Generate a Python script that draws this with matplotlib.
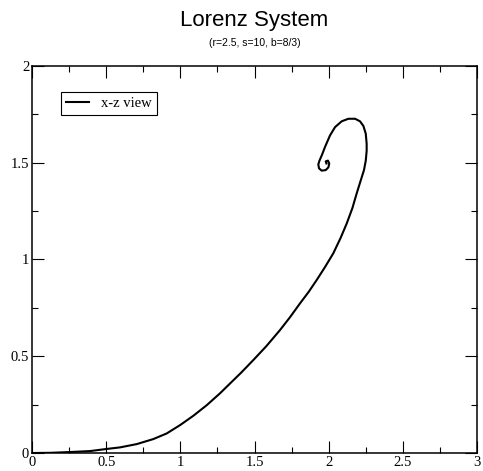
import matplotlib
matplotlib.use("Agg")
import matplotlib.pyplot as plt
from matplotlib.ticker import MultipleLocator

# x-z trajectory, values
x_vals = [0.0, 0.125, 0.256, 0.391, 0.504, 0.593, 0.706, 0.818, 0.908, 0.998,
          1.087, 1.178, 1.267, 1.335, 1.410, 1.492, 1.580, 1.672, 1.740, 1.807,
          1.865, 1.919, 1.975, 2.031, 2.080, 2.122, 2.160, 2.189, 2.215, 2.238,
          2.250, 2.256, 2.256, 2.250, 2.234, 2.211, 2.178, 2.133, 2.088, 2.043,
          2.009, 1.975, 1.955, 1.938, 1.930, 1.935, 1.953, 1.980, 1.998, 2.004,
          1.995, 1.980, 1.985]
z_vals = [0.0, 0.001, 0.005, 0.010, 0.021, 0.029, 0.046, 0.072, 0.101, 0.144,
          0.192, 0.247, 0.308, 0.359, 0.415, 0.480, 0.552, 0.635, 0.702, 0.773,
          0.832, 0.893, 0.960, 1.031, 1.110, 1.186, 1.265, 1.341, 1.405, 1.461,
          1.510, 1.560, 1.597, 1.649, 1.689, 1.713, 1.726, 1.726, 1.713, 1.683,
          1.640, 1.580, 1.540, 1.510, 1.490, 1.470, 1.458, 1.461, 1.475, 1.495,
          1.510, 1.506, 1.495]

serif = "Liberation Serif"
sans = "Liberation Sans"

fig = plt.figure(figsize=(4.83, 4.71), dpi=100)
ax = fig.add_axes([0.0663, 0.0382, 0.9213, 0.8223])

ax.plot(x_vals, z_vals, color="black", lw=1.5, label="x-z view")

ax.set_xlim(0, 3)
ax.set_ylim(0, 2)
ax.xaxis.set_major_locator(MultipleLocator(0.5))
ax.xaxis.set_minor_locator(MultipleLocator(0.25))
ax.yaxis.set_major_locator(MultipleLocator(0.5))
ax.yaxis.set_minor_locator(MultipleLocator(0.25))
ax.xaxis.set_major_formatter(plt.FuncFormatter(lambda v, p: f"{v:g}"))
ax.yaxis.set_major_formatter(plt.FuncFormatter(lambda v, p: f"{v:g}"))

ax.tick_params(which="both", direction="in", top=True, right=True, width=0.8)
ax.tick_params(which="major", length=8.5, pad=2)
ax.tick_params(which="minor", length=4.3)
for lab in ax.get_xticklabels() + ax.get_yticklabels():
    lab.set_fontfamily(serif)
    lab.set_fontsize(10.5)
for sp in ax.spines.values():
    sp.set_linewidth(1.1)

leg = ax.legend(loc="upper left", bbox_to_anchor=(0.065, 0.933), borderaxespad=0,
                fancybox=False, edgecolor="black", framealpha=1, handlelength=1.6,
                prop={"family": serif, "size": 10.5}, borderpad=0.35, handletextpad=0.8)
leg.get_frame().set_linewidth(0.8)

fig.text(0.527, 0.945, "Lorenz System", ha="center", va="baseline",
         family=sans, fontsize=16)
fig.text(0.527, 0.902, "(r=2.5, s=10, b=8/3)", ha="center", va="baseline",
         family=sans, fontsize=7.5)

fig.savefig("out.png", dpi=100)
